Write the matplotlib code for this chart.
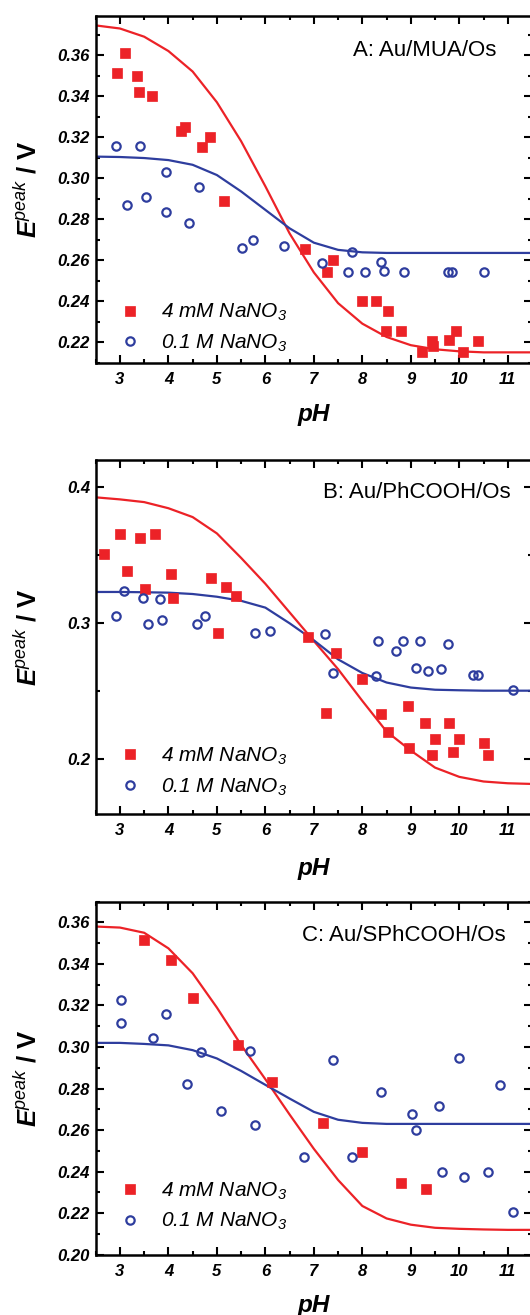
import matplotlib
matplotlib.use("Agg")
import matplotlib.pyplot as plt
from matplotlib.ticker import MultipleLocator, FormatStrFormatter
from matplotlib.lines import Line2D

plt.rcParams['font.family'] = ['Liberation Sans', 'DejaVu Sans']
plt.rcParams['mathtext.fontset'] = 'custom'
plt.rcParams['mathtext.rm'] = 'Liberation Sans:italic'
plt.rcParams['mathtext.it'] = 'Liberation Sans:italic'
plt.rcParams['mathtext.bf'] = 'Liberation Sans:italic:bold'

RED = '#EC2227'
BLUE = '#2E3D9E'

# ---- panel A: Au/MUA/Os ----
a_red_ph = [2.93, 3.10, 3.36, 3.39, 3.67, 4.26, 4.34, 4.69, 4.85, 5.14, 6.81, 7.28, 7.39,
            7.99, 8.29, 8.52, 8.49, 8.80, 9.23, 9.43, 9.46, 9.78, 9.94, 10.08, 10.38]
a_red_e = [0.3515, 0.361, 0.350, 0.342, 0.340, 0.323, 0.325, 0.315, 0.320, 0.289, 0.2653, 0.2542, 0.2602,
           0.240, 0.240, 0.2351, 0.2252, 0.2252, 0.2151, 0.2203, 0.2179, 0.2211, 0.2252, 0.2151, 0.2206]
a_blue_ph = [2.92, 3.41, 3.14, 3.53, 3.94, 3.95, 4.43, 4.63, 5.51, 5.74, 6.39, 7.16, 7.79,
             7.71, 8.06, 8.39, 8.45, 8.85, 9.76, 9.86, 10.50]
a_blue_e = [0.3159, 0.3159, 0.287, 0.2909, 0.3029, 0.2836, 0.278, 0.2955, 0.2661, 0.270, 0.2671, 0.2588, 0.2642,
            0.2542, 0.2542, 0.2593, 0.2547, 0.2542, 0.2542, 0.2542, 0.2542]

# fitted curves, read every 0.5 pH unit
fit_ph = [2.5, 3.0, 3.5, 4.0, 4.5, 5.0, 5.5, 6.0, 6.5, 7.0, 7.5, 8.0, 8.5, 9.0, 9.5, 10.0, 10.5, 11.0, 11.5]
a_red_fit = [0.3745, 0.373, 0.369, 0.362, 0.352, 0.337, 0.318, 0.296, 0.273, 0.254, 0.239, 0.229,
             0.2225, 0.2185, 0.2165, 0.2155, 0.215, 0.215, 0.215]
a_blue_fit = [0.3105, 0.3103, 0.3098, 0.3088, 0.3065, 0.3015, 0.2935, 0.2845, 0.2755, 0.2685, 0.265,
              0.2638, 0.2635, 0.2635, 0.2635, 0.2635, 0.2635, 0.2635, 0.2635]

# ---- panel B: Au/PhCOOH/Os ----
b_red_ph = [2.68, 3.01, 3.15, 3.41, 3.51, 3.73, 4.06, 4.09, 4.88, 5.03, 5.19, 5.39, 6.88, 7.45,
            7.25, 7.99, 8.38, 8.94, 8.52, 9.29, 9.78, 9.50, 9.99, 10.50, 8.97, 9.44, 9.88, 10.59]
b_red_e = [0.3512, 0.3655, 0.3382, 0.3628, 0.3254, 0.3655, 0.3362, 0.3185, 0.3333, 0.2926, 0.3266, 0.320,
           0.2901, 0.2781, 0.2342, 0.2594, 0.2335, 0.2395, 0.2200, 0.2266, 0.2266, 0.2149, 0.2149, 0.2124,
           0.2082, 0.2032, 0.2057, 0.2032]
b_blue_ph = [2.92, 3.09, 3.48, 3.58, 3.82, 3.87, 4.59, 4.76, 5.79, 6.09, 7.24, 7.40, 8.33, 8.29,
             8.69, 8.84, 9.11, 9.18, 9.36, 9.62, 9.76, 10.28, 10.39, 11.11]
b_blue_e = [0.3057, 0.3234, 0.3187, 0.2995, 0.3175, 0.3025, 0.2995, 0.3052, 0.2926, 0.2946, 0.2921, 0.2638,
            0.2872, 0.2613, 0.2798, 0.2867, 0.2675, 0.2867, 0.265, 0.2667, 0.2847, 0.2621, 0.2621, 0.251]
b_red_fit = [0.3925, 0.391, 0.389, 0.3845, 0.378, 0.366, 0.348, 0.329, 0.308, 0.287, 0.2663, 0.243,
             0.2205, 0.2065, 0.194, 0.1872, 0.1838, 0.1825, 0.182]
b_blue_fit = [0.323, 0.323, 0.3228, 0.3225, 0.3215, 0.3195, 0.3165, 0.3115, 0.300, 0.2875, 0.2735,
              0.2635, 0.2565, 0.2528, 0.2512, 0.2508, 0.2505, 0.2505, 0.2505]

# ---- panel C: Au/SPhCOOH/Os ----
c_red_ph = [3.49, 4.05, 4.50, 5.44, 6.14, 7.19, 7.99, 8.80, 9.31]
c_red_e = [0.3516, 0.3421, 0.3238, 0.3012, 0.283, 0.2634, 0.2494, 0.2344, 0.2315]
c_blue_ph = [3.03, 3.03, 3.69, 3.95, 4.39, 4.68, 5.09, 5.69, 5.79, 6.79, 7.40, 7.79, 8.39, 9.03,
             9.10, 9.59, 9.99, 10.85, 9.64, 10.10, 10.59, 11.11]
c_blue_e = [0.3226, 0.3115, 0.3044, 0.316, 0.2824, 0.2977, 0.2693, 0.2983, 0.2623, 0.247, 0.2938, 0.247,
            0.2784, 0.2679, 0.2603, 0.2714, 0.2945, 0.2819, 0.240, 0.2376, 0.240, 0.2205]
c_red_fit = [0.358, 0.3575, 0.355, 0.3475, 0.3355, 0.319, 0.301, 0.2845, 0.2675, 0.251, 0.236, 0.2235,
             0.2175, 0.2145, 0.213, 0.2125, 0.2122, 0.212, 0.212]
c_blue_fit = [0.302, 0.302, 0.3015, 0.3008, 0.2985, 0.2945, 0.2885, 0.2818, 0.2752, 0.2688, 0.265,
              0.2635, 0.263, 0.263, 0.263, 0.263, 0.263, 0.263, 0.263]

panels = [
    dict(label='A: Au/MUA/Os', red=(a_red_ph, a_red_e), blue=(a_blue_ph, a_blue_e),
         fit=(a_red_fit, a_blue_fit), ylim=(0.21, 0.379), major=0.02, minor=0.01, fmt='%.2f',
         rect=(95.7, 16.2, 362.6), txt=(0.918, 0.900), leg=(0.055, 0.025), xlab=-0.117),
    dict(label='B: Au/PhCOOH/Os', red=(b_red_ph, b_red_e), blue=(b_blue_ph, b_blue_e),
         fit=(b_red_fit, b_blue_fit), ylim=(0.16, 0.42), major=0.1, minor=0.05, fmt='%.1f',
         rect=(95.7, 459.9, 813.9), txt=(0.952, 0.909), leg=(0.055, 0.046), xlab=-0.122),
    dict(label='C: Au/SPhCOOH/Os', red=(c_red_ph, c_red_e), blue=(c_blue_ph, c_blue_e),
         fit=(c_red_fit, c_blue_fit), ylim=(0.20, 0.37), major=0.02, minor=0.01, fmt='%.2f',
         rect=(95.7, 901.6, 1254.8), txt=(0.940, 0.903), leg=(0.055, 0.064), xlab=-0.111),
]

W, H = 530, 1315
fig = plt.figure(figsize=(W / 100, H / 100), dpi=100)
fig.patch.set_facecolor('white')

for p in panels:
    left, top, bottom = p['rect']
    right = 532.0
    ax = fig.add_axes([left / W, 1 - bottom / H, (right - left) / W, (bottom - top) / H])

    ax.plot(fit_ph, p['fit'][0], color=RED, lw=1.6, zorder=2)
    ax.plot(fit_ph, p['fit'][1], color=BLUE, lw=1.6, zorder=2)
    ax.plot(*p['red'], ls='none', marker='s', ms=6.5, mfc=RED, mec=RED, mew=0.5, zorder=3)
    ax.plot(*p['blue'], ls='none', marker='o', ms=6.0, mfc='none', mec=BLUE, mew=1.6, zorder=3)

    ax.set_xlim(2.5, 11.5)
    ax.set_ylim(*p['ylim'])
    ax.xaxis.set_major_locator(MultipleLocator(1))
    ax.xaxis.set_minor_locator(MultipleLocator(0.5))
    ax.yaxis.set_major_locator(MultipleLocator(p['major']))
    ax.yaxis.set_minor_locator(MultipleLocator(p['minor']))
    ax.yaxis.set_major_formatter(FormatStrFormatter(p['fmt']))

    ax.tick_params(which='both', direction='in', top=True, right=True, width=1.5)
    ax.tick_params(which='major', length=5.5)
    ax.tick_params(which='minor', length=3)
    ax.tick_params(axis='y', pad=4)
    ax.tick_params(axis='x', pad=6.5)
    for lab in ax.get_xticklabels() + ax.get_yticklabels():
        lab.set_fontweight('bold')
        lab.set_fontstyle('italic')
        lab.set_fontsize(12)
    for s in ax.spines.values():
        s.set_linewidth(1.8)

    ax.set_xlabel('pH', fontsize=17.5, fontweight='bold', fontstyle='italic')
    ax.xaxis.set_label_coords(0.5, p['xlab'])
    ax.set_ylabel(r'$\mathbf{E}^{peak}$ / V', fontsize=18.5, fontweight='bold')
    ax.yaxis.set_label_coords(-0.125, 0.5)

    ax.text(p['txt'][0], p['txt'][1], p['label'], transform=ax.transAxes,
            ha='right', va='center', fontsize=16)

    handles = [
        Line2D([], [], ls='none', marker='s', ms=6.5, mfc=RED, mec=RED, mew=0.5),
        Line2D([], [], ls='none', marker='o', ms=6.0, mfc='none', mec=BLUE, mew=1.6),
    ]
    ax.legend(handles, ['4 mM NaNO$_3$', '0.1 M NaNO$_3$'], loc='lower left',
              bbox_to_anchor=p['leg'], frameon=False, borderpad=0, borderaxespad=0,
              handlelength=1.0, handletextpad=1.0, labelspacing=0.45,
              prop=dict(size=15, style='italic'))

fig.savefig('out.png', dpi=100)
